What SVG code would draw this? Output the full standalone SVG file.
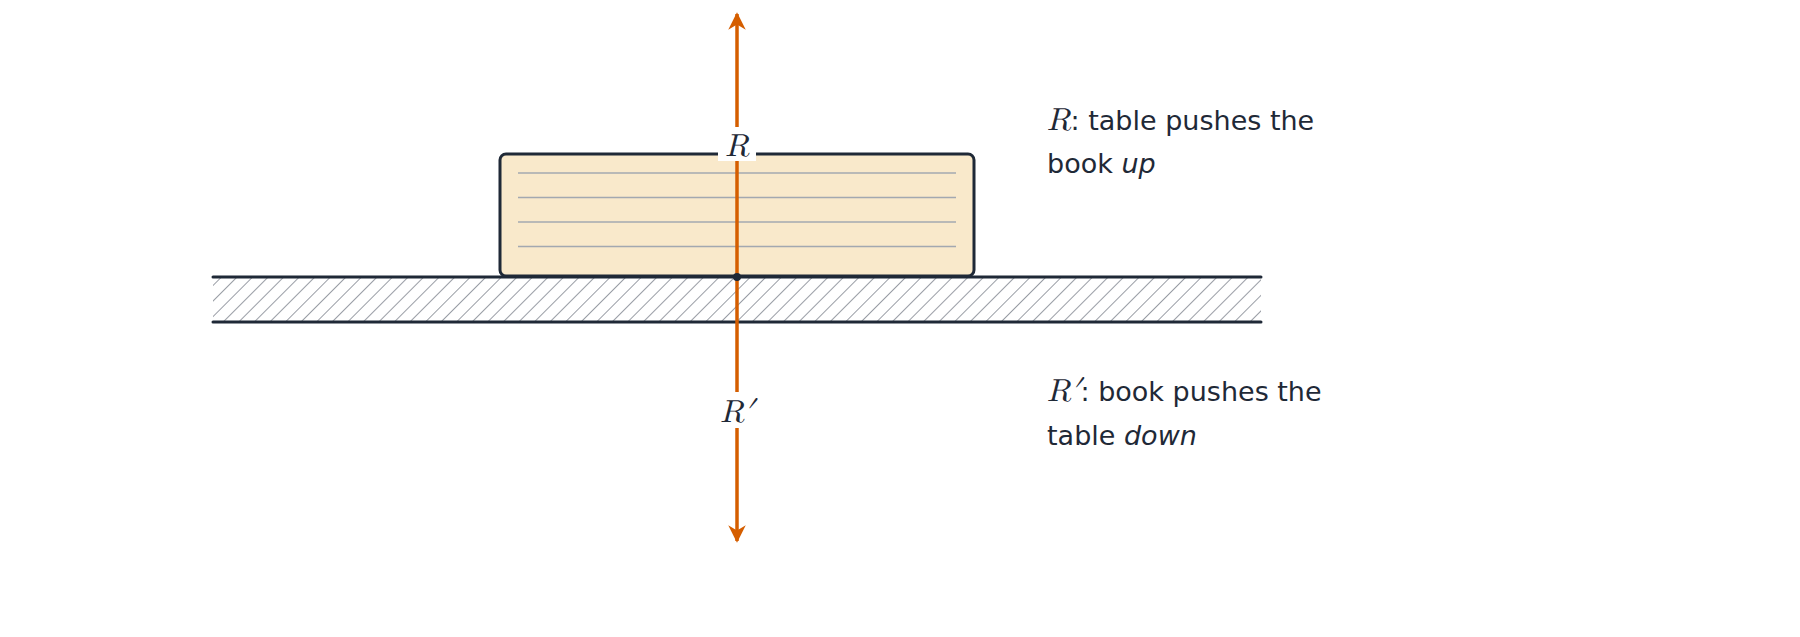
<svg xmlns="http://www.w3.org/2000/svg" width="1800" height="637" viewBox="0 0 1800 637">
<style>
.t{font-family:"DejaVu Sans","Liberation Sans",sans-serif;font-size:27px;fill:#1f2937}
.m{font-family:"Latin Modern Math","DejaVu Serif","Liberation Serif",serif;font-style:italic;font-size:32px;fill:#1f2937}
.edge{stroke:#1f2937;stroke-width:3;stroke-linecap:round}
.rule{stroke:#a3a8b0;stroke-width:1.5}
.force{stroke:#d55e00;stroke-width:3.5;fill:none}
</style>
<defs>
<pattern id="h" width="11" height="11" patternUnits="userSpaceOnUse" patternTransform="rotate(45)">
<line x1="0" y1="0" x2="0" y2="11" stroke="#8d929b" stroke-width="1.8"/>
</pattern>
<marker id="ah" viewBox="0 0 10 10" refX="9" refY="5" markerWidth="5" markerHeight="5" orient="auto-start-reverse">
<path d="M0,0 L10,5 L0,10 L3,5 Z" fill="#d55e00"/>
</marker>
</defs>
<rect width="1800" height="637" fill="#fff"/>
<g id="table">
<rect x="213" y="277" width="1048" height="45" fill="url(#h)"/>
<line class="edge" x1="213" y1="277" x2="1261" y2="277"/>
<line class="edge" x1="213" y1="322" x2="1261" y2="322"/>
</g>
<g id="book">
<rect x="500" y="154" width="474" height="122" rx="6" fill="#f9e9cb" stroke="#1f2937" stroke-width="3"/>
<line class="rule" x1="518" y1="173" x2="956" y2="173"/>
<line class="rule" x1="518" y1="197.5" x2="956" y2="197.5"/>
<line class="rule" x1="518" y1="222" x2="956" y2="222"/>
<line class="rule" x1="518" y1="246.5" x2="956" y2="246.5"/>
</g>
<g id="connectors">
<line class="force" x1="737" y1="277" x2="737" y2="14" marker-end="url(#ah)"/>
<line class="force" x1="737" y1="277" x2="737" y2="541" marker-end="url(#ah)"/>
<circle cx="737" cy="277" r="4" fill="#1f2937"/>
</g>
<g id="labelR">
<rect x="718" y="127" width="38" height="34" fill="#fff"/>
<text class="m" x="737" y="156" text-anchor="middle">R</text>
</g>
<g id="labelRp">
<rect x="716" y="392" width="42" height="36" fill="#fff"/>
<text class="m" x="737" y="422" text-anchor="middle">R′</text>
</g>
<g id="noteR">
<text x="1047" y="130"><tspan class="m">R</tspan><tspan class="t">: table pushes the</tspan></text>
<text class="t" x="1047" y="173">book <tspan font-style="italic">up</tspan></text>
</g>
<g id="noteRp">
<text x="1047" y="401"><tspan class="m">R′</tspan><tspan class="t">: book pushes the</tspan></text>
<text class="t" x="1047" y="445">table <tspan font-style="italic">down</tspan></text>
</g>
</svg>
